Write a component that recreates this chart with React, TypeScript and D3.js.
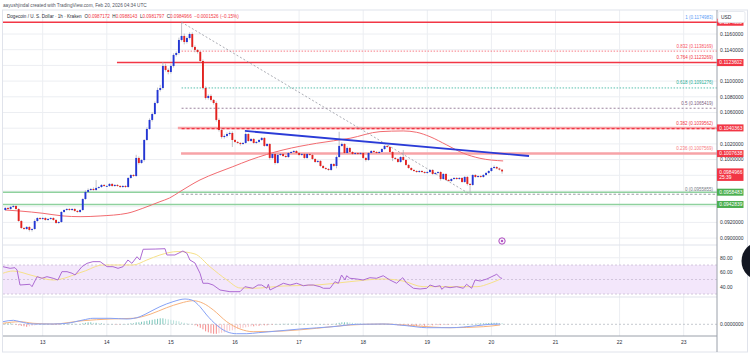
import React from "react";
import * as d3 from "d3";

const FONT = "'Liberation Sans', Arial, sans-serif";

// hour index 0 = Feb 13 2026, 00:00 UTC ; one candle per hour
const FIRST_HOUR = -14;
const FIRST_OPEN = 0.09358;
const closes = [
  0.09384, 0.09371, 0.09397, 0.09409, 0.09371, 0.09218, 0.09129, 0.09116, 0.09142, 0.09104,
  0.09116, 0.09218, 0.09256, 0.09244, 0.09256, 0.09231, 0.09244, 0.09256, 0.09231, 0.09193,
  0.09205, 0.09333, 0.09358, 0.09371, 0.09358, 0.09371, 0.09346, 0.09333, 0.09358, 0.09498,
  0.09588, 0.09613, 0.09626, 0.09613, 0.09639, 0.09651, 0.09677, 0.09664, 0.09664, 0.0969,
  0.09664, 0.09677, 0.09664, 0.09651, 0.09664, 0.09651, 0.09766, 0.09804, 0.09791, 0.10021,
  0.09957, 0.09995, 0.1025, 0.1039, 0.10505, 0.10581, 0.10721, 0.10887, 0.10912, 0.11193,
  0.11142, 0.11116, 0.11193, 0.11333, 0.11358, 0.11524, 0.11575, 0.11498, 0.11549, 0.116,
  0.11435, 0.11397, 0.11371, 0.11256, 0.10912, 0.10785, 0.10811, 0.1076, 0.10721, 0.10505,
  0.10377, 0.10288, 0.10301, 0.10326, 0.10339, 0.1025, 0.10225, 0.10212, 0.10199, 0.10212,
  0.10326, 0.10237, 0.10263, 0.10212, 0.10225, 0.1025, 0.10276, 0.10174, 0.10199, 0.10021,
  0.10072, 0.09957, 0.10059, 0.10072, 0.10046, 0.10033, 0.10084, 0.10097, 0.1011, 0.10084,
  0.10059, 0.10072, 0.10021, 0.10072, 0.10059, 0.10008, 0.0997, 0.09983, 0.09919, 0.09893,
  0.09881, 0.09868, 0.09944, 0.09919, 0.10033, 0.10174, 0.10199, 0.10084, 0.10148, 0.10097,
  0.10072, 0.10084, 0.10072, 0.10084, 0.10021, 0.09995, 0.10084, 0.1011, 0.10097, 0.10084,
  0.10097, 0.10135, 0.10174, 0.10161, 0.10097, 0.10021, 0.10008, 0.0997, 0.10033, 0.09995,
  0.09932, 0.09893, 0.09868, 0.09855, 0.09842, 0.09855, 0.09842, 0.0983, 0.09842, 0.09868,
  0.09817, 0.0983, 0.09842, 0.09753, 0.09817, 0.09741, 0.09728, 0.09753, 0.09766, 0.09753,
  0.09766, 0.09715, 0.09779, 0.0969, 0.09677, 0.09804, 0.09779, 0.09791, 0.09779, 0.09804,
  0.0983, 0.09855, 0.09893, 0.09906, 0.09887, 0.09872, 0.0984966,
];
// wick extensions beyond the body, in units of 0.0001
const wickUp = [
  1, 1, 1, 2, 1, 1, 1, 1, 1, 1,
  1, 2, 1, 1, 1, 1, 1, 1, 1, 1,
  1, 1, 1, 1, 1, 1, 1, 1, 1, 1,
  2, 2, 1, 2, 10, 1, 1, 1, 1, 1,
  1, 1, 1, 1, 1, 1, 1, 1, 1, 4,
  2, 1, 1, 2, 2, 2, 2, 3, 4, 5,
  3, 2, 2, 2, 2, 3, 17, 3, 2, 2,
  2, 2, 1, 1, 2, 2, 2, 2, 1, 2,
  2, 2, 2, 2, 2, 2, 1, 1, 1, 1,
  2, 1, 1, 1, 1, 1, 1, 1, 1, 1,
  1, 1, 2, 1, 1, 1, 1, 1, 1, 1,
  1, 1, 1, 1, 1, 1, 1, 1, 1, 1,
  1, 1, 1, 1, 2, 18, 2, 1, 2, 1,
  1, 1, 1, 1, 1, 1, 1, 1, 1, 1,
  1, 1, 1, 1, 1, 1, 1, 1, 1, 9,
  1, 1, 1, 1, 1, 1, 1, 1, 1, 1,
  1, 1, 1, 1, 1, 1, 1, 1, 1, 1,
  1, 1, 1, 1, 1, 1, 1, 1, 1, 1,
  1, 1, 1, 2, 1, 1, 0,
];
const wickDown = [
  1, 1, 1, 1, 1, 1, 1, 1, 1, 2,
  2, 1, 1, 1, 1, 1, 1, 1, 1, 1,
  1, 1, 1, 1, 1, 1, 1, 1, 1, 1,
  1, 1, 1, 1, 1, 1, 1, 1, 1, 1,
  1, 1, 1, 1, 1, 1, 1, 1, 1, 1,
  2, 1, 2, 1, 1, 2, 1, 1, 2, 2,
  2, 3, 2, 2, 2, 2, 2, 3, 2, 2,
  2, 3, 2, 2, 2, 2, 2, 2, 2, 2,
  2, 2, 2, 2, 2, 9, 1, 1, 2, 1,
  1, 1, 1, 1, 1, 1, 1, 1, 1, 2,
  1, 2, 1, 1, 1, 1, 1, 1, 1, 1,
  1, 1, 1, 1, 1, 1, 1, 1, 1, 1,
  1, 1, 1, 1, 3, 1, 1, 1, 1, 1,
  1, 1, 1, 1, 1, 2, 1, 1, 1, 1,
  1, 1, 1, 1, 1, 4, 1, 1, 1, 1,
  1, 1, 1, 1, 1, 1, 1, 1, 1, 1,
  1, 1, 1, 2, 1, 1, 1, 1, 1, 1,
  1, 1, 1, 2, 12, 1, 1, 1, 1, 1,
  1, 1, 1, 1, 1, 1, 3,
];

// moving average on price: [hour, price]
const priceMA = [
  [-14.1, 0.09358], [-8.5, 0.09345], [0.1, 0.09316], [7.6, 0.09282], [14.0, 0.09273],
  [21.5, 0.09282], [31.6, 0.09316], [37.5, 0.0938], [43.9, 0.09464], [47.5, 0.09511],
  [51.4, 0.09592], [58.9, 0.09741], [65.3, 0.09834], [71.2, 0.0991], [77.6, 0.09995],
  [90.0, 0.10123], [102.6, 0.10208], [115.1, 0.10272], [126.3, 0.10356], [135.0, 0.10365],
  [140.0, 0.10348], [145.0, 0.10292], [151.3, 0.10186], [157.5, 0.10081], [163.7, 0.10017],
  [172.4, 0.09983],
];

// trend line (blue) and fib swing (dashed diagonal): [hour, price]
const trendLine = [[75.7, 0.10365], [182.1, 0.10046]];
const swingLine = [[52, 0.1174983], [160, 0.0955855]];

// fibonacci retracement
const fibLevels = [1, 0.832, 0.764, 0.618, 0.5, 0.382, 0.236, 0];
const fibPrices = [0.1174983, 0.1138169, 0.1123269, 0.1091276, 0.1065419, 0.1039562, 0.1007569, 0.0955855];
const fibColors = ["#5b9cf6", "#f7525f", "#f23645", "#22ab94", "#7b5c80", "#f23645", "#f77c80", "#787b86"];
const fibDash = ["none", "1.5 1.5", "none", "1.5 1.5", "2 2", "3 2", "none", "2.5 2"];
const FIB_START_HOUR = 52;

// horizontal support / resistance levels
const levelPrices = [0.1174983, 0.1123602, 0.1040363, 0.1007638, 0.0958483, 0.0942839];
const levelStartHours = [-18, 27.8, 50.6, 51.8, -18, -18];
const levelColors = ["#f23645", "#f23645", "#f7a3a7", "#f7a3a7", "#8fd19e", "#8fd19e"];
const levelWidths = [1.5, 1.5, 2.5, 2.5, 1.6, 1.6];
const levelLabelColors = ["#f23645", "#f23645", "#f23645", "#f23645", "#4caf50", "#4caf50"];

const LAST_PRICE = 0.0984966;
const COUNTDOWN = "25:39";

const priceTicks = [0.09, 0.092, 0.094, 0.096, 0.098, 0.1, 0.102, 0.104, 0.106, 0.108, 0.11, 0.112, 0.114, 0.116];
const dayTicks = [13, 14, 15, 16, 17, 18, 19, 20, 21, 22, 23];

// RSI: [hour, value]
const rsiLine = [
  [-14.9, 67.7], [-12.2, 65.4], [-10.4, 66.3], [-9.6, 63.1], [-8.5, 42.4], [-4.8, 43.4], [-4.0, 40.1],
  [-2.1, 53.9], [-0.3, 51.7], [1.6, 53.9], [3.9, 51.7], [5.7, 49.3], [7.2, 60.8], [9.1, 60.8],
  [11.0, 58.6], [12.1, 56.2], [14.7, 67.7], [16.6, 72.3], [18.8, 74.6], [21.5, 74.6], [24.1, 67.7],
  [26.3, 67.7], [28.2, 65.4], [30.1, 67.7], [31.9, 76.9], [33.4, 72.3], [35.3, 81.4], [36.4, 76.9],
  [37.6, 91.7], [42.1, 92.0], [45.8, 92.5], [46.5, 83.8], [49.5, 83.8], [52.5, 89.3], [54.0, 86.1],
  [55.1, 76.9], [57.0, 72.8], [58.9, 58.6], [60.0, 44.8], [61.9, 44.8], [63.8, 42.4], [66.4, 35.5],
  [70.1, 33.2], [73.9, 33.2], [75.7, 40.1], [78.7, 37.9], [80.6, 42.4], [82.0, 42.4], [83.9, 37.9],
  [84.5, 43.4], [85.1, 35.5], [87.6, 40.1], [90.1, 44.8], [92.6, 42.4], [95.1, 44.8], [97.6, 41.4],
  [99.4, 42.4], [101.3, 42.4], [103.8, 40.1], [105.1, 37.9], [107.6, 37.9], [109.4, 47.0], [110.7, 44.8],
  [111.9, 56.2], [113.2, 49.3], [113.8, 55.2], [115.0, 51.7], [117.6, 50.7], [120.0, 49.3], [122.5, 52.5],
  [125.0, 51.7], [127.5, 55.2], [130.0, 49.3], [132.5, 44.8], [134.8, 52.5], [136.3, 44.8], [138.8, 37.9],
  [141.3, 36.9], [143.8, 37.9], [145.0, 42.4], [146.9, 40.1], [148.8, 41.4], [149.4, 36.5], [150.6, 40.1],
  [152.5, 38.7], [155.0, 40.1], [157.5, 37.9], [158.7, 43.4], [160.6, 37.9], [161.9, 49.3], [163.8, 47.9],
  [166.3, 50.7], [170.0, 57.2], [171.3, 52.5], [172.0, 51.4],
];
const rsiMA = [
  [-14.9, 58.6], [-11.1, 61.7], [-3.6, 55.2], [3.9, 49.3], [15.1, 60.8], [22.6, 70], [33.8, 70],
  [39.0, 76.9], [43.9, 83.8], [50.7, 88.6], [57.0, 85.2], [62.6, 67.7], [69.0, 49.3], [73.9, 38.3],
  [78.7, 37.9], [90.0, 41.0], [102.7, 42.4], [115.0, 47.0], [127.4, 50.7], [134.9, 47.9], [142.4, 40.1],
  [152.5, 40.1], [162.6, 40.1], [167.5, 44.8], [171.2, 50.3],
];
const rsiTicks = [80, 60, 40];

// MACD in units of 0.0001: [hour, value]
const macdLine = [
  [-14.9, 2.6], [-11.0, 4.0], [-8.5, 2.6], [-3.6, 0.3], [3.9, 0.3], [9.0, 1.0], [15.1, 4.3], [18.8, 6.0],
  [25.2, 6.0], [31.6, 5.3], [36.4, 7.6], [40.2, 12.6], [43.9, 17.6], [48.8, 22.6], [53.3, 25.3], [55.8, 24.3],
  [58.9, 17.6], [61.4, 9.3], [65.1, -0.7], [68.9, -7.4], [72.6, -9.4], [76.4, -9.4], [80.7, -8.4], [85.1, -7.4],
  [96.3, -4.7], [108.7, -2.4], [117.6, 0], [127.5, 0.3], [136.3, -1.4], [143.8, -3.4], [152.5, -3.4],
  [162.5, -1.4], [167.5, 0], [171.2, 0.3],
];
const macdSignal = [
  [-14.9, 1.0], [-8.5, 2.6], [-3.6, 1.0], [3.9, 0.3], [15.1, 3.6], [25.2, 5.3], [33.8, 6.0], [40.2, 10.0],
  [46.4, 16.6], [51.4, 21.0], [56.4, 23.6], [60.1, 21.0], [63.9, 14.3], [68.9, 2.6], [73.9, -4.7], [78.8, -7.4],
  [90.0, -6.7], [102.6, -4.0], [115.1, -0.7], [127.5, 0.3], [140.0, -1.7], [152.5, -3.4], [165.0, -2.4],
  [171.2, -0.7],
];
// histogram, one per candle (same hours as the candles), units of 0.0001
const macdHist = [
  1, 1, 1, 0.5, -0.5, -1, -1.5, -2, -2.5, -2,
  -1.5, -1, -0.5, 0, 0.5, 0.5, 0.5, 0, -0.5, -0.5,
  -0.5, 0, 0.5, 0.5, 0.5, 0.5, 0.5, 0.3, 0.3, 1,
  1.5, 2, 2, 1.5, 1.5, 1, 1, 0.5, 0.3, 0,
  0, -0.3, -0.3, -0.3, 0, 0, 0.5, 1, 1, 2,
  2, 2.5, 3, 3.5, 4, 4.5, 5, 5.5, 6, 6,
  5.5, 5, 4.5, 4, 3.5, 3, 2, 1.5, 1, 0.5,
  0, -1, -2, -3.5, -5, -7, -8, -9, -9.5, -9.5,
  -9, -8.5, -8, -7, -6.5, -6, -5, -4.5, -4, -3.5,
  -3, -2.5, -2, -2, -1.5, -1.5, -1, -1, -1, -0.5,
  -0.5, 0, 0, 0.3, 0.5, 0.5, 0.5, 0.5, 0.5, 0.5,
  0.5, 0.5, 0.5, 0.3, 0.3, 0.3, 0.3, 0, 0, 0,
  -0.3, -0.3, 0, 0.5, 0.8, 1.5, 2, 2, 2, 1.8,
  1.5, 1.2, 1, 0.8, 0.5, 0.3, 0.3, 0.2, 0.2, 0,
  0, 0.2, 0.3, 0, -0.3, -0.5, -0.8, -1, -1, -1.2,
  -1.5, -1.8, -2, -2, -2, -1.8, -1.5, -1.5, -1.2, -1,
  -1, -0.8, -0.8, -0.8, -0.5, -0.5, -0.5, -0.3, -0.3, -0.2,
  0, 0, 0, 0, 0, 0.3, 0.5, 0.8, 1, 1,
  1.2, 1.3, 1.5, 1.5, 1.5, 1.3, 1.2,
];

const HEADER_1 = "aayushjindal created with TradingView.com, Feb 20, 2026 04:34 UTC";
const SYMBOL = "Dogecoin / U. S. Dollar · 1h · Kraken";
const OHLC = [["O", "0.0987172"], ["H", "0.0988143"], ["L", "0.0981797"], ["C", "0.0984966"]];
const CHANGE = "−0.0001526 (−0.15%)";

export default function App() {
  const AX = 717;
  const PANE_TOP = 10, PRICE_BOTTOM = 245, RSI_BOTTOM = 297, MACD_BOTTOM = 336, BOTTOM = 352;
  const x = d3.scaleLinear().domain([0, 240]).range([42.7, 683.7]);
  const y = d3.scaleLinear().domain([0.09, 0.116]).range([238.1, 34.0]);
  const yR = d3.scaleLinear().domain([30, 70]).range([294, 265]);
  const yM = d3.scaleLinear().domain([0, 10]).range([324.3, 314.3]);

  const up = "#2437d4", down = "#e3221f", wick = "#a6a9b2";
  const candles = closes.map((c, i) => {
    const o = i === 0 ? FIRST_OPEN : closes[i - 1];
    const hi = Math.max(o, c) + wickUp[i] * 1e-4;
    const lo = Math.min(o, c) - wickDown[i] * 1e-4;
    return { h: FIRST_HOUR + i, o, c, hi, lo };
  });

  const priceLine = d3.line<number[]>().x((d) => x(d[0])).y((d) => y(d[1]));
  const maPath = d3.line<number[]>().x((d) => x(d[0])).y((d) => y(d[1])).curve(d3.curveMonotoneX)(priceMA as any);
  const rsiPath = d3.line<number[]>().x((d) => x(d[0])).y((d) => yR(d[1]))(rsiLine as any);
  const rsiMAPath = d3.line<number[]>().x((d) => x(d[0])).y((d) => yR(d[1])).curve(d3.curveMonotoneX)(rsiMA as any);
  const macdPath = d3.line<number[]>().x((d) => x(d[0])).y((d) => yM(d[1])).curve(d3.curveMonotoneX)(macdLine as any);
  const sigPath = d3.line<number[]>().x((d) => x(d[0])).y((d) => yM(d[1])).curve(d3.curveMonotoneX)(macdSignal as any);

  const labelYs = levelPrices.map((p) => y(p)).concat([y(LAST_PRICE) + 3]);
  const visibleTicks = priceTicks.filter((t) => labelYs.every((ly) => Math.abs(ly - y(t)) > 5.5));

  const grid = "#eceef2";
  const axisText = "#2a2e39";

  return (
    <svg width={750} height={354} style={{ position: "absolute", left: 0, top: 0, fontFamily: FONT }}>
      <defs>
        <clipPath id="pricePane"><rect x={3} y={PANE_TOP} width={AX - 3} height={PRICE_BOTTOM - PANE_TOP} /></clipPath>
        <clipPath id="rsiPane"><rect x={3} y={PRICE_BOTTOM} width={AX - 3} height={RSI_BOTTOM - PRICE_BOTTOM} /></clipPath>
        <clipPath id="macdPane"><rect x={3} y={RSI_BOTTOM} width={AX - 3} height={MACD_BOTTOM - RSI_BOTTOM} /></clipPath>
      </defs>
      <rect x={0} y={0} width={750} height={354} fill="#ffffff" />

      {/* grid */}
      {dayTicks.map((d) => (
        <line key={"vg" + d} x1={x((d - 13) * 24)} x2={x((d - 13) * 24)} y1={PANE_TOP} y2={MACD_BOTTOM} stroke={grid} strokeWidth={1} />
      ))}
      {priceTicks.map((t) => (
        <line key={"hg" + t} x1={3} x2={AX} y1={y(t)} y2={y(t)} stroke={grid} strokeWidth={1} />
      ))}
      {rsiTicks.map((t) => (
        <line key={"rg" + t} x1={3} x2={AX} y1={yR(t)} y2={yR(t)} stroke={grid} strokeWidth={1} />
      ))}

      {/* pane separators & frame */}
      <rect x={2.5} y={PANE_TOP} width={745} height={BOTTOM - PANE_TOP} fill="none" stroke="#e0e3eb" strokeWidth={1} />
      <line x1={3} x2={AX} y1={PRICE_BOTTOM} y2={PRICE_BOTTOM} stroke="#e0e3eb" strokeWidth={1} />
      <line x1={3} x2={AX} y1={RSI_BOTTOM} y2={RSI_BOTTOM} stroke="#e0e3eb" strokeWidth={1} />

      {/* price pane */}
      <g clipPath="url(#pricePane)">
        {fibPrices.map((p, i) =>
          fibDash[i] === "none" ? null : (
            <line key={"fib" + i} x1={x(FIB_START_HOUR)} x2={AX} y1={y(p)} y2={y(p)} stroke={fibColors[i]} strokeOpacity={0.75} strokeWidth={1} strokeDasharray={fibDash[i]} />
          )
        )}
        {levelPrices.map((p, i) => (
          <line key={"lvl" + i} x1={x(levelStartHours[i])} x2={AX} y1={y(p)} y2={y(p)} stroke={levelColors[i]} strokeWidth={levelWidths[i]} />
        ))}
        <line x1={x(FIB_START_HOUR)} x2={AX} y1={y(fibPrices[5])} y2={y(fibPrices[5])} stroke="#f23645" strokeWidth={1.3} strokeDasharray="3 2" />
        <path d={maPath || ""} fill="none" stroke="#f26b70" strokeWidth={1} />
        <path d={priceLine(swingLine as any) || ""} fill="none" stroke="#9598a1" strokeWidth={0.8} strokeDasharray="2 2" />
        {candles.map((k, i) => {
          const cx = x(k.h);
          const top = y(Math.max(k.o, k.c));
          const bot = y(Math.min(k.o, k.c));
          return (
            <g key={"c" + i}>
              <line x1={cx} x2={cx} y1={y(k.hi)} y2={y(k.lo)} stroke={wick} strokeWidth={0.7} />
              <rect x={cx - 0.95} y={top} width={1.9} height={Math.max(0.8, bot - top)} fill={k.c >= k.o ? up : down} />
            </g>
          );
        })}
        <path d={priceLine(trendLine as any) || ""} fill="none" stroke="#2a3bd7" strokeWidth={1.8} />
        {fibPrices.map((p, i) => (
          <text key={"fl" + i} x={713} y={y(p) - 3.6} fontSize={4.5} textAnchor="end" fill={fibColors[i]}>
            {`${fibLevels[i]} (${p.toFixed(7)})`}
          </text>
        ))}
      </g>

      {/* RSI pane */}
      <g clipPath="url(#rsiPane)">
        <rect x={3} y={yR(70)} width={AX - 3} height={yR(30) - yR(70)} fill="#f3e7fb" />
        {[70, 50, 30].map((t) => (
          <line key={"rb" + t} x1={3} x2={AX} y1={yR(t)} y2={yR(t)} stroke="#c9bdd6" strokeWidth={0.8} strokeDasharray="2 2" />
        ))}
        <path d={rsiMAPath || ""} fill="none" stroke="#f6e189" strokeWidth={1} />
        <path d={rsiPath || ""} fill="none" stroke="#ad6bd3" strokeWidth={1} />
      </g>

      {/* MACD pane */}
      <g clipPath="url(#macdPane)">
        <line x1={3} x2={AX} y1={yM(0)} y2={yM(0)} stroke="#b8bbc4" strokeWidth={0.8} strokeDasharray="2 2" />
        {macdHist.map((v, i) => {
          const prev = i > 0 ? macdHist[i - 1] : v;
          const color = v >= 0 ? (v >= prev ? "#7fc8bd" : "#b9e2dc") : (v <= prev ? "#f58a8a" : "#f9c4c8");
          const y0 = yM(0), y1 = yM(v);
          return (
            <rect key={"mh" + i} x={x(FIRST_HOUR + i) - 0.5} y={Math.min(y0, y1)} width={1} height={Math.max(0.3, Math.abs(y1 - y0))} fill={color} />
          );
        })}
        <path d={sigPath || ""} fill="none" stroke="#f8b27c" strokeWidth={1} />
        <path d={macdPath || ""} fill="none" stroke="#86a2f6" strokeWidth={1} />
      </g>

      {/* axes */}
      <line x1={AX} x2={AX} y1={PANE_TOP} y2={BOTTOM} stroke="#9aa0aa" strokeWidth={1} />
      <line x1={3} x2={AX} y1={MACD_BOTTOM} y2={MACD_BOTTOM} stroke="#9aa0aa" strokeWidth={1} />
      {dayTicks.map((d) => (
        <text key={"dl" + d} x={x((d - 13) * 24)} y={344} fontSize={5} textAnchor="middle" fill={axisText}>
          {d}
        </text>
      ))}
      {visibleTicks.map((t) => (
        <text key={"pl" + t} x={720} y={y(t) + 1.8} fontSize={5} fill={axisText}>
          {t.toFixed(7)}
        </text>
      ))}
      {rsiTicks.map((t) => (
        <text key={"rl" + t} x={720} y={yR(t) + 1.8} fontSize={5} fill={axisText}>
          {t.toFixed(2)}
        </text>
      ))}
      <text x={720} y={yM(0) + 1.8} fontSize={5} fill={axisText}>0.0000000</text>

      {levelPrices.map((p, i) => (
        <g key={"ll" + i}>
          <rect x={AX} y={y(p) - 3.5} width={26.5} height={7} fill={levelLabelColors[i]} />
          <text x={719.3} y={y(p) + 1.8} fontSize={4.9} fill="#ffffff">{p.toFixed(7)}</text>
        </g>
      ))}
      <rect x={AX} y={y(LAST_PRICE) - 3} width={26.5} height={12.5} fill="#f23645" />
      <text x={719.3} y={y(LAST_PRICE) + 2.3} fontSize={4.9} fill="#ffffff">{LAST_PRICE.toFixed(7)}</text>
      <text x={719.3} y={y(LAST_PRICE) + 7.6} fontSize={4.9} fill="#ffffff">{COUNTDOWN}</text>

      {/* currency box */}
      <rect x={718} y={11.5} width={27} height={11} rx={1.5} fill="#ffffff" stroke="#e0e3eb" strokeWidth={0.8} />
      <text x={721} y={18.6} fontSize={4.9} fill={axisText}>USD</text>

      {/* header */}
      <text x={3} y={6.5} fontSize={4.7} fill="#50535e">{HEADER_1}</text>
      <text x={7} y={17.6} fontSize={4.6} fill={axisText}>
        <tspan>{SYMBOL}</tspan>
        {OHLC.map(([k, v], i) => (
          <React.Fragment key={k}>
            <tspan dx={i === 0 ? 3 : 2.5}>{k}</tspan>
            <tspan fill="#f23645">{v}</tspan>
          </React.Fragment>
        ))}
        <tspan dx={2.5} fill="#f23645">{CHANGE}</tspan>
      </text>

      {/* icons */}
      <circle cx={502} cy={241} r={3.2} fill="#f6eafa" stroke="#9c27b0" strokeWidth={0.8} />
      <circle cx={502} cy={241} r={1} fill="#9c27b0" />
      <circle cx={761} cy={261} r={19.5} fill="#131722" />
    </svg>
  );
}
